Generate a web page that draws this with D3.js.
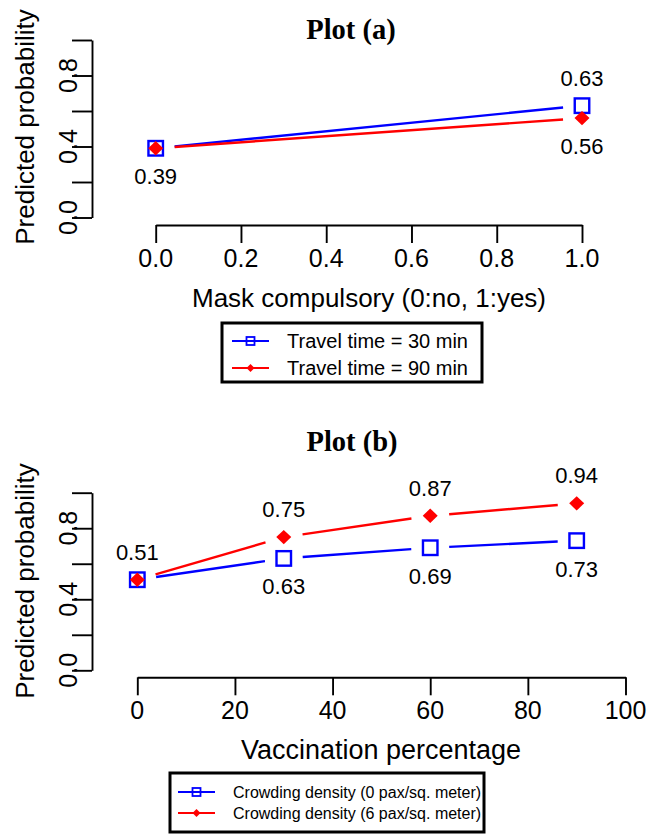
<!DOCTYPE html>
<html>
<head>
<meta charset="utf-8">
<script src="https://cdn.jsdelivr.net/npm/d3@7"></script>
<style>
  body { margin: 0; background: #fff; }
  text { font-family: "Liberation Sans", Arial, sans-serif; fill: #000; }
  .title { font-family: "Liberation Serif", "Times New Roman", serif; font-weight: bold; }
</style>
</head>
<body>
<svg id="chart"></svg>
<script>
// ---- data ----
let maskX = [0, 1]
let travel30 = [0.39, 0.63]
let travel90 = [0.39, 0.56]
let maskTicks = [0, 0.2, 0.4, 0.6, 0.8, 1.0]

let vaccX = [0, 30, 60, 90]
let crowd0 = [0.51, 0.63, 0.69, 0.73]
let crowd6 = [0.51, 0.75, 0.87, 0.94]
let vaccTicks = [0, 20, 40, 60, 80, 100]

let probTicks = [0, 0.2, 0.4, 0.6, 0.8, 1.0]
let probLabels = [0, 0.4, 0.8]

let width = 647
let height = 834
let blue = '#0000ff'
let red = '#ff0000'
let gap = 19

let svg = d3.select('#chart').attr('width', width).attr('height', height)

let square = (g, x, y, s) => {
  g.append('rect')
    .attr('x', x - s / 2).attr('y', y - s / 2)
    .attr('width', s).attr('height', s)
    .attr('fill', 'none').attr('stroke', blue).attr('stroke-width', s > 10 ? 2.4 : 1.8)
}

let diamond = (g, x, y, w, h) => {
  g.append('path')
    .attr('d', `M${x},${y - h}L${x + w},${y}L${x},${y + h}L${x - w},${y}Z`)
    .attr('fill', red)
}

// type = "b" style: segments with gaps around the points
let gappedLine = (g, xs, ys, xScale, yScale, color) => {
  for (let i = 0; i < xs.length - 1; i++) {
    let x1 = xScale(xs[i]), y1 = yScale(ys[i])
    let x2 = xScale(xs[i + 1]), y2 = yScale(ys[i + 1])
    let len = Math.hypot(x2 - x1, y2 - y1)
    let ux = (x2 - x1) / len, uy = (y2 - y1) / len
    g.append('line')
      .attr('x1', x1 + ux * gap).attr('y1', y1 + uy * gap)
      .attr('x2', x2 - ux * gap).attr('y2', y2 - uy * gap)
      .attr('stroke', color).attr('stroke-width', 2.4)
  }
}

let drawPanel = (opts) => {
  let g = svg.append('g')
  let xScale = d3.scaleLinear().domain(opts.xDomain).range(opts.xRange)
  let yScale = d3.scaleLinear().domain([0, 1]).range(opts.yRange)

  // title
  g.append('text').attr('class', 'title')
    .attr('x', opts.titleX).attr('y', opts.titleY)
    .attr('text-anchor', 'middle').style('font-size', '28.5px')
    .text(opts.title)

  // y axis
  let yAxis = d3.axisLeft(yScale).tickValues(probTicks).tickSize(20).tickSizeOuter(0).tickFormat('')
  let ya = g.append('g').attr('transform', 'translate(92,0)').call(yAxis)
  ya.selectAll('path, line').attr('stroke', '#000').attr('stroke-width', 1.9)

  probLabels.forEach((v) => {
    g.append('text')
      .attr('transform', `translate(77,${yScale(v)}) rotate(-90)`)
      .attr('text-anchor', 'middle').style('font-size', '25px')
      .text(v.toFixed(1))
  })

  g.append('text')
    .attr('transform', `translate(34,${opts.yTitleY}) rotate(-90)`)
    .attr('text-anchor', 'middle').style('font-size', '26px')
    .text('Predicted probability')

  // x axis
  let xAxis = d3.axisBottom(xScale).tickValues(opts.xTicks).tickSize(18).tickSizeOuter(0).tickFormat('')
  let xa = g.append('g').attr('transform', `translate(0,${opts.xAxisY})`).call(xAxis)
  xa.selectAll('path, line').attr('stroke', '#000').attr('stroke-width', 1.9)

  opts.xTicks.forEach((v) => {
    g.append('text')
      .attr('x', xScale(v)).attr('y', opts.xLabelY)
      .attr('text-anchor', 'middle').style('font-size', '25px')
      .text(opts.tickFmt(v))
  })

  g.append('text')
    .attr('x', opts.xTitleX).attr('y', opts.xTitleY)
    .attr('text-anchor', 'middle').style('font-size', opts.xTitleSize + 'px')
    .text(opts.xTitle)

  // lines and points
  gappedLine(g, opts.xs, opts.blueVals, xScale, yScale, blue)
  gappedLine(g, opts.xs, opts.redVals, xScale, yScale, red)
  opts.xs.forEach((x, i) => {
    square(g, xScale(x), yScale(opts.blueVals[i]), 14.5)
    diamond(g, xScale(x), yScale(opts.redVals[i]), 7.5, 7.2)
  })

  // value labels
  let label = (x, v, dy) => {
    g.append('text')
      .attr('x', xScale(x)).attr('y', yScale(v) + dy + 8)
      .attr('text-anchor', 'middle').style('font-size', '22px')
      .text(v.toFixed(2))
  }
  opts.blueLabelIdx.forEach((i) => label(opts.xs[i], opts.blueVals[i], opts.blueDy))
  opts.redLabelIdx.forEach((i) => label(opts.xs[i], opts.redVals[i], opts.redDy))

  // legend
  let L = opts.legend
  g.append('rect')
    .attr('x', L.x).attr('y', L.y).attr('width', L.w).attr('height', L.h)
    .attr('fill', '#fff').attr('stroke', '#000').attr('stroke-width', 3)
  L.labels.forEach((txt, i) => {
    let cy = L.rowY[i]
    let color = i === 0 ? blue : red
    g.append('line')
      .attr('x1', L.lineX).attr('x2', L.lineX + 37)
      .attr('y1', cy).attr('y2', cy)
      .attr('stroke', color).attr('stroke-width', 2)
    if (i === 0) square(g, L.lineX + 18.5, cy, 8)
    else diamond(g, L.lineX + 18.5, cy, 4, 4)
    g.append('text')
      .attr('x', L.textX).attr('y', cy + L.font * 0.36)
      .style('font-size', L.font + 'px')
      .text(txt)
  })
}

drawPanel({
  title: 'Plot (a)', titleX: 351, titleY: 39,
  xDomain: [0, 1], xRange: [155.7, 582], yRange: [217.5, 40],
  xTicks: maskTicks, tickFmt: (v) => v.toFixed(1),
  xAxisY: 225, xLabelY: 266.5,
  xTitle: 'Mask compulsory (0:no, 1:yes)', xTitleX: 369, xTitleY: 307, xTitleSize: 26,
  yTitleY: 127,
  xs: maskX, blueVals: travel30, redVals: travel90,
  blueLabelIdx: [1], blueDy: -28,
  redLabelIdx: [0, 1], redDy: 28,
  legend: {
    x: 222, y: 323, w: 260, h: 59, lineX: 232, textX: 287, font: 20,
    rowY: [341, 368],
    labels: ['Travel time = 30 min', 'Travel time = 90 min']
  }
})

drawPanel({
  title: 'Plot (b)', titleX: 352, titleY: 451,
  xDomain: [0, 100], xRange: [137.3, 625.5], yRange: [670.3, 492.7],
  xTicks: vaccTicks, tickFmt: (v) => String(v),
  xAxisY: 677.3, xLabelY: 718.5,
  xTitle: 'Vaccination percentage', xTitleX: 381, xTitleY: 759, xTitleSize: 27,
  yTitleY: 581,
  xs: vaccX, blueVals: crowd0, redVals: crowd6,
  blueLabelIdx: [1, 2, 3], blueDy: 28,
  redLabelIdx: [0, 1, 2, 3], redDy: -28,
  legend: {
    x: 170, y: 773, w: 314, h: 59, lineX: 178, textX: 233, font: 16,
    rowY: [792, 813],
    labels: ['Crowding density (0 pax/sq. meter)', 'Crowding density (6 pax/sq. meter)']
  }
})
</script>
</body>
</html>
